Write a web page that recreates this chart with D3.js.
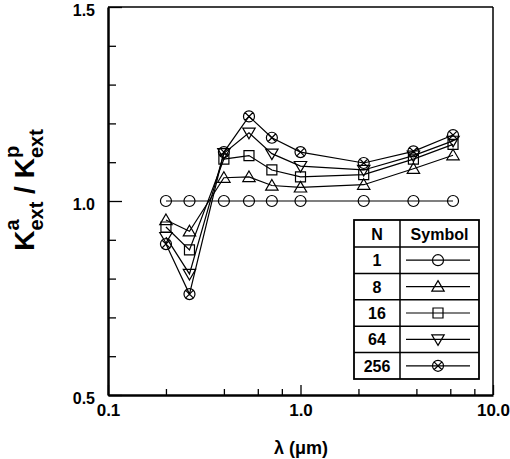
<!DOCTYPE html>
<html>
<head>
<meta charset="utf-8">
<script src="https://cdn.jsdelivr.net/npm/d3@7"></script>
<style>
  body { margin: 0; background: #fff; }
  svg { display: block; font-family: "Liberation Sans", Arial, Helvetica, sans-serif; }
</style>
</head>
<body>
<div id="chart"></div>
<script>
// wavelengths (um) and extinction ratio for each aggregate size N
const lambda = [0.2, 0.265, 0.4, 0.54, 0.71, 1.0, 2.13, 3.86, 6.2];
const nLabels = ["1", "8", "16", "64", "256"];
const symbols = ["circle", "triangle", "square", "triangleDown", "circleX"];
const ratioN1 = [1.0, 1.0, 1.0, 1.0, 1.0, 1.0, 1.0, 1.0, 1.0];
const ratioN8 = [0.951, 0.922, 1.06, 1.062, 1.04, 1.035, 1.042, 1.083, 1.118];
const ratioN16 = [0.933, 0.874, 1.108, 1.117, 1.08, 1.062, 1.068, 1.108, 1.146];
const ratioN64 = [0.907, 0.812, 1.123, 1.176, 1.122, 1.09, 1.08, 1.117, 1.155];
const ratioN256 = [0.889, 0.760, 1.126, 1.218, 1.163, 1.126, 1.098, 1.128, 1.170];

const xMajorTicks = [0.1, 1, 10];
const xMajorLabels = ["0.1", "1.0", "10.0"];
const xMinorTicks = [0.2, 0.4, 0.6, 0.8, 2, 4, 6, 8];
const yMajorTicks = [0.5, 1.0, 1.5];
const yMajorLabels = ["0.5", "1.0", "1.5"];
const yMinorTicks = [0.6, 0.7, 0.8, 0.9, 1.1, 1.2, 1.3, 1.4];

const series = [ratioN1, ratioN8, ratioN16, ratioN64, ratioN256].map((vals, i) => ({
  n: nLabels[i],
  symbol: symbols[i],
  points: vals.map((v, j) => ({ x: lambda[j], y: v }))
}));

const W = 510, H = 459;
const plot = { left: 108, right: 493, top: 7, bottom: 395 };

const svg = d3.select("#chart").append("svg")
  .attr("width", W).attr("height", H);

const x = d3.scaleLog().domain([0.1, 10]).range([plot.left, plot.right]);
const y = d3.scaleLinear().domain([0.5, 1.5]).range([plot.bottom, plot.top]);

// marker shapes, centred on 0,0
function markerPath(type) {
  const r = 5.5;
  if (type == "circle" || type == "circleX") {
    let p = d3.path();
    p.moveTo(r, 0);
    p.arc(0, 0, r, 0, 2 * Math.PI);
    if (type == "circleX") {
      const d = r * 0.72;
      p.moveTo(-d, -d); p.lineTo(d, d);
      p.moveTo(-d, d); p.lineTo(d, -d);
    }
    return p.toString();
  }
  if (type == "triangle") return "M0,-6L6.2,4.6L-6.2,4.6Z";
  if (type == "triangleDown") return "M0,6L6.2,-4.6L-6.2,-4.6Z";
  if (type == "square") return "M-5,-5L5,-5L5,5L-5,5Z";
}

// frame
svg.append("line").attr("x1", plot.left).attr("x2", plot.right).attr("y1", plot.top).attr("y2", plot.top)
  .attr("stroke", "#000").attr("stroke-width", 1.5);
svg.append("line").attr("x1", plot.right).attr("x2", plot.right).attr("y1", plot.top).attr("y2", plot.bottom)
  .attr("stroke", "#000").attr("stroke-width", 1.5);

// bottom axis
const xMinor = svg.append("g").attr("transform", `translate(0,${plot.bottom})`)
  .call(d3.axisBottom(x).tickValues(xMinorTicks).tickSizeInner(-6).tickSizeOuter(0).tickFormat(""));
xMinor.select(".domain").remove();
const xMajor = svg.append("g").attr("transform", `translate(0,${plot.bottom})`)
  .call(d3.axisBottom(x).tickValues(xMajorTicks).tickSizeInner(-10).tickSizeOuter(0)
    .tickPadding(9).tickFormat((d, i) => xMajorLabels[i]));
xMajor.select(".domain").attr("stroke-width", 2.5);
xMajor.selectAll("text").attr("font-size", 17).attr("font-weight", "bold").attr("fill", "#000");

// left axis
const yMinor = svg.append("g").attr("transform", `translate(${plot.left},0)`)
  .call(d3.axisLeft(y).tickValues(yMinorTicks).tickSizeInner(-8).tickSizeOuter(0).tickFormat(""));
yMinor.select(".domain").remove();
const yMajor = svg.append("g").attr("transform", `translate(${plot.left},0)`)
  .call(d3.axisLeft(y).tickValues(yMajorTicks).tickSizeInner(-14).tickSizeOuter(0)
    .tickPadding(13).tickFormat((d, i) => yMajorLabels[i]));
yMajor.select(".domain").attr("stroke-width", 2.5);
yMajor.selectAll("text").attr("font-size", 16).attr("font-weight", "bold").attr("fill", "#000").attr("dy", "0.5em");
svg.selectAll(".tick line").attr("stroke", "#000").attr("stroke-width", 1.3);

// axis titles
svg.append("text").attr("x", 301).attr("y", 454).attr("text-anchor", "middle")
  .attr("font-size", 18).attr("font-weight", "bold").text("λ (μm)");

const yTitle = svg.append("text")
  .attr("transform", "translate(34,190) rotate(-90)")
  .attr("text-anchor", "middle").attr("font-weight", "bold");
function kTerm(sup, first) {
  yTitle.append("tspan").attr("font-size", 28).attr("dy", first ? 0 : -9).text(first ? "K" : " / K");
  const s = yTitle.append("tspan").attr("font-size", 20).attr("dy", -15).text(sup);
  const wSup = s.node().getComputedTextLength();
  yTitle.append("tspan").attr("font-size", 20).attr("dx", -wSup).attr("dy", 24).text("ext");
}
kTerm("a", true);
kTerm("p", false);

// data lines and markers
const line = d3.line().x(d => x(d.x)).y(d => y(d.y));
const gSeries = svg.selectAll(".series").data(series).join("g").attr("class", "series");
gSeries.append("path")
  .attr("d", d => line(d.points))
  .attr("fill", "none").attr("stroke", "#000").attr("stroke-width", 1.2);
gSeries.each(function (s) {
  d3.select(this).selectAll("path.mk").data(s.points).join("path")
    .attr("class", "mk")
    .attr("transform", d => `translate(${x(d.x)},${y(d.y)})`)
    .attr("d", markerPath(s.symbol))
    .attr("fill", "none").attr("stroke", "#000").attr("stroke-width", 1.2);
});

// legend table
const tbl = { left: 354, mid: 400, right: 479, top: 220, head: 27, row: 26.4 };
const legend = svg.append("g");
const tblBottom = tbl.top + tbl.head + tbl.row * nLabels.length;
legend.append("rect").attr("x", tbl.left).attr("y", tbl.top)
  .attr("width", tbl.right - tbl.left).attr("height", tblBottom - tbl.top)
  .attr("fill", "#fff").attr("stroke", "#000").attr("stroke-width", 1.8);
legend.append("line").attr("x1", tbl.mid).attr("x2", tbl.mid).attr("y1", tbl.top).attr("y2", tblBottom)
  .attr("stroke", "#000").attr("stroke-width", 1.5);
const rowTop = i => tbl.top + tbl.head + tbl.row * i;
legend.selectAll(".rl").data(nLabels).join("line").attr("class", "rl")
  .attr("x1", tbl.left).attr("x2", tbl.right)
  .attr("y1", (d, i) => rowTop(i)).attr("y2", (d, i) => rowTop(i))
  .attr("stroke", "#000").attr("stroke-width", 1.5);
legend.append("text").attr("x", (tbl.left + tbl.mid) / 2).attr("y", tbl.top + tbl.head / 2 + 6)
  .attr("text-anchor", "middle").attr("font-size", 16).attr("font-weight", "bold").text("N");
legend.append("text").attr("x", (tbl.mid + tbl.right) / 2).attr("y", tbl.top + tbl.head / 2 + 6)
  .attr("text-anchor", "middle").attr("font-size", 16).attr("font-weight", "bold").text("Symbol");
series.forEach((s, i) => {
  const cy = rowTop(i) + tbl.row / 2;
  legend.append("text").attr("x", (tbl.left + tbl.mid) / 2).attr("y", cy + 6)
    .attr("text-anchor", "middle").attr("font-size", 16).attr("font-weight", "bold").text(s.n);
  legend.append("line").attr("x1", tbl.mid + 6).attr("x2", tbl.right - 9).attr("y1", cy).attr("y2", cy)
    .attr("stroke", "#000").attr("stroke-width", 1.2);
  legend.append("path").attr("transform", `translate(438,${cy})`)
    .attr("d", markerPath(s.symbol))
    .attr("fill", "none").attr("stroke", "#000").attr("stroke-width", 1.2);
});
</script>
</body>
</html>
